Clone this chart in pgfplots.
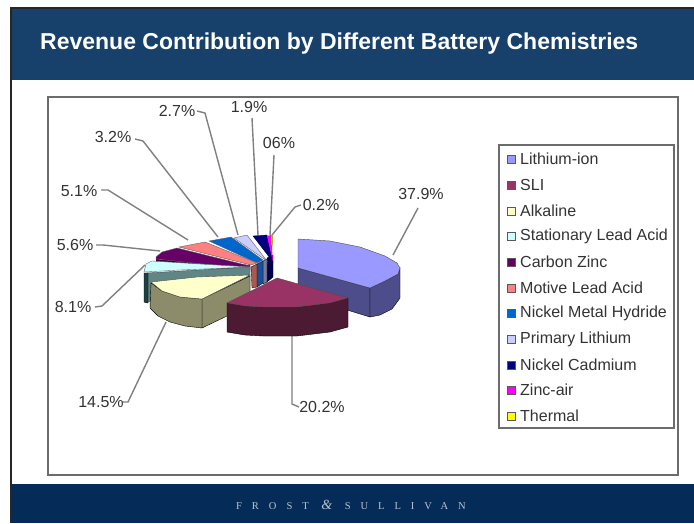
\documentclass[border=0pt]{standalone}
\usepackage{fontspec}
\setmainfont{Liberation Sans}
\newfontfamily\serifft[LetterSpace=95]{Liberation Serif}
\usepackage{pgfplots}
\pgfplotsset{compat=1.18}
\definecolor{hdr}{HTML}{17406B}
\definecolor{ftr}{HTML}{052C58}
\definecolor{liT}{HTML}{9999FF}\definecolor{liS}{HTML}{4D4D8C}
\definecolor{slT}{HTML}{993366}\definecolor{slS}{HTML}{4D1A33}
\definecolor{alT}{HTML}{FFFFCC}\definecolor{alS}{HTML}{8C8C6B}
\definecolor{stT}{HTML}{CCFFFF}\definecolor{stS}{HTML}{5F8585}\definecolor{stD}{HTML}{1F4040}
\definecolor{caT}{HTML}{660066}\definecolor{caS}{HTML}{330033}
\definecolor{moT}{HTML}{FF8080}\definecolor{moS}{HTML}{A85A50}
\definecolor{niT}{HTML}{0066CC}\definecolor{niS}{HTML}{1A4F9A}
\definecolor{prT}{HTML}{CCCCFF}\definecolor{prS}{HTML}{7A7A9A}
\definecolor{cdT}{HTML}{000080}\definecolor{cdS}{HTML}{000050}
\definecolor{znT}{HTML}{FF00FF}\definecolor{thT}{HTML}{FFFF00}
\definecolor{lead}{HTML}{808080}
\definecolor{txt}{HTML}{333333}
\begin{document}
\begin{tikzpicture}
\begin{axis}[
  scale only axis, width=694pt, height=523pt,
  xmin=0, xmax=694, ymin=0, ymax=523, y dir=reverse,
  hide axis, clip=true,
  every axis plot/.append style={forget plot},
  lg/.style={only marks, mark=square*, mark size=4pt, mark options={draw=gray!70!black, line width=0.8pt, fill=#1}},
]
% page background (keeps the whole page in the picture)
\addplot[fill=white, draw=none] coordinates {(0,0)(694,0)(694,523)(0,523)} -- cycle;
% page furniture
\addplot[fill=hdr, draw=none] coordinates {(11,8)(694,8)(694,80)(11,80)} -- cycle;
\addplot[fill=ftr, draw=none] coordinates {(11,484)(694,484)(694,523)(11,523)} -- cycle;
\addplot[draw=black!85, line width=1.6pt] coordinates {(11,523)(11,8)(694,8)};
\addplot[draw=gray!85!black, line width=1.5pt] coordinates {(48,97)(678,97)(678,475)(48,475)} -- cycle;
% leader lines
\addplot[lead, line width=1.4pt] coordinates {(393,255)(418,208)};
\addplot[lead, line width=1.4pt] coordinates {(292,336)(292,404)(299,407)};
\addplot[lead, line width=1.4pt] coordinates {(166,322)(128,402)(122,402)};
\addplot[lead, line width=1.4pt] coordinates {(145,265)(102,306)(95,307)};
\addplot[lead, line width=1.4pt] coordinates {(160,251)(103,245)(96,245)};
\addplot[lead, line width=1.4pt] coordinates {(188,240)(108,190)(101,190)};
\addplot[lead, line width=1.4pt] coordinates {(218,237)(143,141)(135,139)};
\addplot[lead, line width=1.4pt] coordinates {(238,235)(205,113)(197,111)};
\addplot[lead, line width=1.4pt] coordinates {(258,235)(252,118)};
\addplot[lead, line width=1.4pt] coordinates {(270,235)(274,155)};
\addplot[lead, line width=1.4pt] coordinates {(272,235)(295,207)(301,205)};
% Nickel Cadmium, Zinc-air, Thermal
\addplot[fill=cdS, draw=black] coordinates {(267,258)(273,255)(273,277)(267,282)} -- cycle;
\addplot[fill=cdT, draw=black, line width=0.3pt] coordinates {(253,236)(267,235)(273,262)} -- cycle;
\addplot[fill=znT, draw=none] coordinates {(267,236)(271,235)(273,262)} -- cycle;
\addplot[fill=thT!70!black, draw=none] coordinates {(271,235)(273,235)(273,250)} -- cycle;
% Primary Lithium
\addplot[fill=prS, draw=black, line width=0.3pt] coordinates {(263,261)(267,259)(267,282)(263,284)} -- cycle;
\addplot[fill=prT, draw=black!60, line width=0.4pt] coordinates {(234,238)(247,235)(267,261)} -- cycle;
% Nickel Metal Hydride
\addplot[fill=niS, draw=black, line width=0.3pt] coordinates {(257,264)(263,261)(263,283)(257,287)} -- cycle;
\addplot[fill=niT, draw=black!60, line width=0.4pt] coordinates {(209,241)(231,237)(263,260)(257,263)} -- cycle;
% Motive Lead Acid
\addplot[fill=moS, draw=black, line width=0.3pt] coordinates {(251,267)(257,264)(257,287)(252,288)} -- cycle;
\addplot[fill=moT, draw=black!60, line width=0.4pt] coordinates {(179,247)(205,242)(257,263)(251,265)} -- cycle;
% Carbon Zinc
\addplot[fill=caS, draw=none] coordinates {(156,259)(250,265)(250,272)(156,262)} -- cycle;
\addplot[fill=caT, draw=black!60, line width=0.4pt] coordinates {(156,257)(162,252)(177,248)(250,266)(250,269)(156,259)} -- cycle;
% Stationary Lead Acid
\addplot[fill=stS, draw=black!70, line width=0.4pt] coordinates {(147,273)(250,267)(250,300)(147,302)} -- cycle;
\addplot[fill=stD, draw=black, line width=0.4pt] coordinates {(144,273)(148,273)(148,303)(144,302)} -- cycle;
\addplot[fill=stT, draw=black!60, line width=0.4pt] coordinates {(144,272)(146,264)(152,261)(200,264)(250,267)(180,270)} -- cycle;
% Alkaline
\addplot[fill=alS, draw=black, line width=0.4pt] coordinates {(202,299)(250,276)(250,305)(202,328)} -- cycle;
\addplot[fill=alS, draw=black, line width=0.4pt] coordinates {(151,283)(162,291)(180,297)(202,299)(202,328)(185,326)(170,322)(158,316)(150,308)} -- cycle;
\addplot[fill=alT, draw=black!70, line width=0.4pt] coordinates {(151,282)(197,277)(250,275)(202,299)(180,297)(162,291)} -- cycle;
% Lithium-ion
\addplot[fill=liS, draw=black, line width=0.4pt] coordinates {(298,268)(370,288)(370,317)(298,295)} -- cycle;
\addplot[fill=liS, draw=black, line width=0.4pt] coordinates {(370,288)(385,281)(398,274)(400,268)(400,298)(392,309)(380,315)(370,317)} -- cycle;
\addplot[fill=liT, draw=black!70, line width=0.4pt] coordinates {(298,239)(330,241)(360,247)(385,256)(397,263)(400,268)(398,274)(385,281)(370,288)(298,268)} -- cycle;
% SLI
\addplot[fill=slS, draw=black, line width=0.4pt] coordinates {(227,303)(245,306)(263,307)(297,307)(330,303)(348,298)(348,327)(330,332)(297,336)(263,336)(245,335)(227,332)} -- cycle;
\addplot[fill=slT, draw=black!70, line width=0.4pt] coordinates {(277,278)(348,298)(330,303)(297,307)(263,307)(245,306)(227,303)} -- cycle;
% text
\node[white, font=\fontsize{23}{26}\selectfont\bfseries, anchor=west, inner sep=0pt] at (axis cs:40,44) {Revenue Contribution by Different Battery Chemistries};
\node[text=white!72!ftr, font=\fontsize{10.5}{12}\selectfont\serifft] at (axis cs:351,505) {FROST {\fontsize{14}{12}\selectfont\itshape\&} SULLIVAN};
\begin{scope}[every node/.style={text=txt, font=\fontsize{16}{18}\selectfont, inner sep=0pt}]
\node at (axis cs:421,194) {37.9\%};
\node at (axis cs:322,407) {20.2\%};
\node at (axis cs:101,402) {14.5\%};
\node at (axis cs:73,307) {8.1\%};
\node at (axis cs:75,245) {5.6\%};
\node at (axis cs:79,191) {5.1\%};
\node at (axis cs:113,137) {3.2\%};
\node at (axis cs:177,111) {2.7\%};
\node at (axis cs:249,107) {1.9\%};
\node at (axis cs:279,143) {06\%};
\node at (axis cs:321,205) {0.2\%};
\end{scope}
% legend
\addplot[fill=white, draw=gray!85!black, line width=1.5pt] coordinates {(499,145)(674,145)(674,428)(499,428)} -- cycle;
\addplot[lg=liT] coordinates {(511,159)};
\addplot[lg=slT] coordinates {(511,185)};
\addplot[lg=alT] coordinates {(511,211)};
\addplot[lg=stT] coordinates {(511,236)};
\addplot[lg=caT] coordinates {(511,262)};
\addplot[lg=moT] coordinates {(511,288)};
\addplot[lg=niT] coordinates {(511,313)};
\addplot[lg=prT] coordinates {(511,339)};
\addplot[lg=cdT] coordinates {(511,365)};
\addplot[lg=znT] coordinates {(511,390)};
\addplot[lg=thT] coordinates {(511,416)};
\begin{scope}[every node/.style={text=txt, font=\fontsize{16}{18}\selectfont, inner sep=0pt, anchor=west}]
\node at (axis cs:520,159) {Lithium-ion};
\node at (axis cs:520,185) {SLI};
\node at (axis cs:520,211) {Alkaline};
\node at (axis cs:520,236) {Stationary Lead Acid};
\node at (axis cs:520,262) {Carbon Zinc};
\node at (axis cs:520,288) {Motive Lead Acid};
\node at (axis cs:520,313) {Nickel Metal Hydride};
\node at (axis cs:520,339) {Primary Lithium};
\node at (axis cs:520,365) {Nickel Cadmium};
\node at (axis cs:520,390) {Zinc-air};
\node at (axis cs:520,416) {Thermal};
\end{scope}
\end{axis}
\end{tikzpicture}
\end{document}
